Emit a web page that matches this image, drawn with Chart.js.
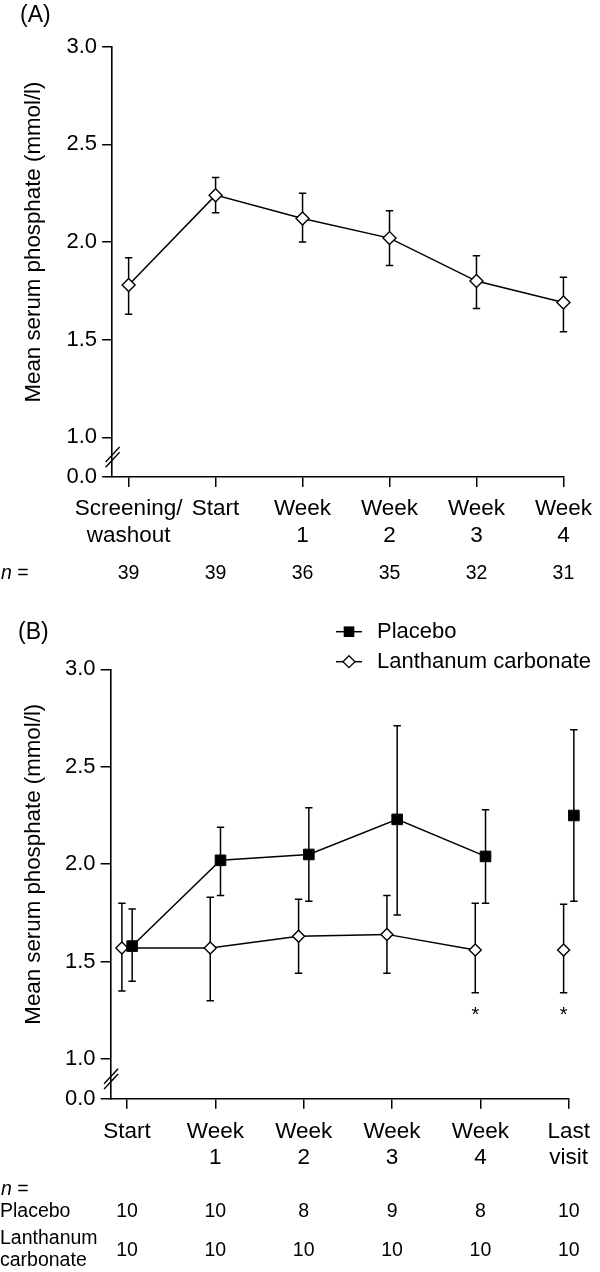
<!DOCTYPE html>
<html>
<head>
<meta charset="utf-8">
<script src="https://cdn.jsdelivr.net/npm/chart.js@4.4.0/dist/chart.umd.min.js"></script>
<style>
html,body{margin:0;padding:0;background:#fff;}
#wrapA{position:absolute;left:0;top:0;width:600px;height:600px;}
#wrapB{position:absolute;left:0;top:600px;width:600px;height:672px;}
canvas{display:block;}
</style>
</head>
<body>
<div id="wrapA"><canvas id="cA"></canvas></div>
<div id="wrapB"><canvas id="cB"></canvas></div>
<script>
const FONT = '"Liberation Sans", Arial, Helvetica, sans-serif';

// ---------- Panel A data ----------
const panelATitle = "(A)";
const labelsA = [["Screening/", "washout"], "Start", ["Week", "1"], ["Week", "2"], ["Week", "3"], ["Week", "4"]];
const meanA  = [1.78, 2.24, 2.12, 2.02, 1.80, 1.69];
const upperA = [1.92, 2.33, 2.25, 2.16, 1.93, 1.82];
const lowerA = [1.63, 2.15, 2.00, 1.88, 1.66, 1.54];
const nA = [39, 39, 36, 35, 32, 31];

// ---------- Panel B data ----------
const panelBTitle = "(B)";
const labelsB = ["Start", ["Week", "1"], ["Week", "2"], ["Week", "3"], ["Week", "4"], ["Last", "visit"]];
const placeboMean  = [1.58, 2.02, 2.05, 2.23, 2.04, 2.25];
const placeboUpper = [1.77, 2.19, 2.29, 2.71, 2.28, 2.69];
const placeboLower = [1.40, 1.84, 1.81, 1.74, 1.80, 1.81];
const lanthMean  = [1.57, 1.57, 1.63, 1.64, 1.56, 1.56];
const lanthUpper = [1.80, 1.83, 1.82, 1.84, 1.80, 1.795];
const lanthLower = [1.35, 1.30, 1.44, 1.44, 1.34, 1.34];
const nPlacebo = [10, 10, 8, 9, 8, 10];
const nLanth   = [10, 10, 10, 10, 10, 10];
const significance = ["", "", "", "", "*", "*"];
const seriesNames = ["Placebo", "Lanthanum carbonate"];
const tableRowNames = [["Placebo"], ["Lanthanum", "carbonate"]];

// ---------- Axis ----------
const yTickValues = [0.0, 1.0, 1.5, 2.0, 2.5, 3.0];
const yTickLabels = ["0.0", "1.0", "1.5", "2.0", "2.5", "3.0"];
const yTitle = "Mean serum phosphate (mmol/l)";

// scale constants (layout, not data)
const BREAK_MIN = 0.797;     // scale position where the 0.0 tick sits (axis break)
const PAIR_OFFSET = 0.058;   // horizontal dodge between the two series in panel B
const CAP = 3.7;

function yScale(extra) {
  return Object.assign({
    type: 'linear', min: BREAK_MIN, max: 3.0,
    afterBuildTicks(s) { s.ticks = yTickValues.map(v => ({ value: v === 0 ? BREAK_MIN : v })); },
    afterFit(s) { s.width = 60; },
    ticks: { color: '#000', font: { family: FONT, size: 22 }, padding: 5,
             callback: (v, i) => yTickLabels[i] },
    grid: { display: true, drawOnChartArea: false, drawTicks: true, tickLength: 10, color: '#000', lineWidth: 1.5 },
    border: { display: true, color: '#000', width: 1.6 }
  }, extra || {});
}
function xScale(labels, xmin, pad, lh) {
  return {
    type: 'linear', min: xmin, max: 5,
    afterBuildTicks(s) { s.ticks = labels.map((_, i) => ({ value: i })); },
    afterFit(s) { s.height = 100; },
    ticks: { color: '#000', font: { family: FONT, size: 22.5, lineHeight: lh }, padding: pad,
             autoSkip: false, maxRotation: 0, minRotation: 0,
             callback: (v, i) => labels[i] },
    grid: { display: true, drawOnChartArea: false, drawTicks: true, tickLength: 10, color: '#000', lineWidth: 1.5 },
    border: { display: true, color: '#000', width: 1.6 }
  };
}

const errorBars = {
  id: 'errorBars',
  beforeDatasetsDraw(chart) {
    const { ctx, scales: { x, y } } = chart;
    ctx.save();
    ctx.strokeStyle = '#000';
    ctx.lineWidth = 1.5;
    chart.data.datasets.forEach(ds => {
      if (!ds.errLow) return;
      ds.data.forEach((p, i) => {
        const px = x.getPixelForValue(p.x);
        const yl = y.getPixelForValue(ds.errLow[i]);
        const yh = y.getPixelForValue(ds.errHigh[i]);
        ctx.beginPath();
        ctx.moveTo(px, yl); ctx.lineTo(px, yh);
        ctx.moveTo(px - CAP, yl); ctx.lineTo(px + CAP, yl);
        ctx.moveTo(px - CAP, yh); ctx.lineTo(px + CAP, yh);
        ctx.stroke();
      });
    });
    ctx.restore();
  }
};

function drawBreak(ctx, chart) {
  const y = chart.scales.y;
  const xa = chart.chartArea.left;
  const yc = (y.getPixelForValue(1.0) + y.getPixelForValue(BREAK_MIN)) / 2;
  ctx.save();
  ctx.strokeStyle = '#000';
  ctx.lineWidth = 1.4;
  [-2.6, 2.6].forEach(o => {
    ctx.beginPath();
    ctx.moveTo(xa - 6.5, yc + o + 7.5);
    ctx.lineTo(xa + 7.5, yc + o - 7.5);
    ctx.stroke();
  });
  ctx.restore();
}

function drawYTitle(ctx, chart, cx) {
  const y = chart.scales.y;
  const cy = (y.getPixelForValue(1.0) + y.getPixelForValue(3.0)) / 2;
  ctx.save();
  ctx.translate(cx, cy);
  ctx.rotate(-Math.PI / 2);
  ctx.font = '22.3px ' + FONT;
  ctx.fillStyle = '#000';
  ctx.textAlign = 'center';
  ctx.textBaseline = 'middle';
  ctx.fillText(yTitle, 0, 0);
  ctx.restore();
}

function drawNLabel(ctx, x, y, size) {
  ctx.save();
  ctx.fillStyle = '#000';
  ctx.textBaseline = 'middle';
  ctx.textAlign = 'left';
  ctx.font = 'italic ' + size + 'px ' + FONT;
  ctx.fillText('n', x + 1, y);
  const w = ctx.measureText('n').width;
  ctx.font = size + 'px ' + FONT;
  ctx.fillText(' =', x + 1 + w, y);
  ctx.restore();
}

function drawDiamond(ctx, x, y, r) {
  ctx.beginPath();
  ctx.moveTo(x, y - r); ctx.lineTo(x + r, y); ctx.lineTo(x, y + r); ctx.lineTo(x - r, y); ctx.closePath();
  ctx.fillStyle = '#fff'; ctx.fill();
  ctx.strokeStyle = '#000'; ctx.lineWidth = 1.3; ctx.stroke();
}

// ---------- Panel A ----------
const annotA = {
  id: 'annotA',
  afterDraw(chart) {
    const ctx = chart.ctx;
    const x = chart.scales.x;
    drawBreak(ctx, chart);
    drawYTitle(ctx, chart, 34);
    ctx.save();
    ctx.fillStyle = '#000';
    ctx.font = '23px ' + FONT;
    ctx.textBaseline = 'middle';
    ctx.textAlign = 'left';
    ctx.fillText(panelATitle, 20, 16);
    ctx.font = '19.5px ' + FONT;
    ctx.textAlign = 'center';
    nA.forEach((n, i) => ctx.fillText(String(n), x.getPixelForValue(i), 574));
    ctx.restore();
    drawNLabel(ctx, 0, 574, 19.5);
  }
};

new Chart(document.getElementById('cA'), {
  type: 'line',
  data: {
    datasets: [{
      label: 'Mean serum phosphate',
      data: meanA.map((v, i) => ({ x: i, y: v })),
      errLow: lowerA, errHigh: upperA,
      borderColor: '#000', borderWidth: 1.5,
      pointStyle: 'rectRot', pointRadius: 6.5, pointHoverRadius: 6.5,
      pointBackgroundColor: '#fff', pointBorderColor: '#000', pointBorderWidth: 1.4,
      tension: 0, clip: false
    }]
  },
  options: {
    responsive: true, maintainAspectRatio: false, animation: false,
    layout: { padding: { left: 52.1, right: 27.1, top: 46.7, bottom: 23 } },
    plugins: { legend: { display: false }, tooltip: { enabled: false } },
    scales: { x: xScale(labelsA, -0.19, 8, 1.2), y: yScale() }
  },
  plugins: [errorBars, annotA]
});

// ---------- Panel B ----------
const annotB = {
  id: 'annotB',
  afterDraw(chart) {
    const ctx = chart.ctx;
    const x = chart.scales.x;
    const y = chart.scales.y;
    drawBreak(ctx, chart);
    drawYTitle(ctx, chart, 33.5);
    ctx.save();
    ctx.fillStyle = '#000';
    ctx.font = '23px ' + FONT;
    ctx.textBaseline = 'middle';
    ctx.textAlign = 'left';
    ctx.fillText(panelBTitle, 18, 33);

    // legend
    const lx = 336, rows = [31.7, 61.7];
    ctx.strokeStyle = '#000'; ctx.lineWidth = 1.5;
    rows.forEach((ry, k) => {
      ctx.beginPath(); ctx.moveTo(lx, ry); ctx.lineTo(lx + 26, ry); ctx.stroke();
      if (k === 0) { ctx.fillStyle = '#000'; ctx.fillRect(lx + 13 - 5.3, ry - 5.3, 10.6, 10.6); }
      else drawDiamond(ctx, lx + 13, ry, 6);
      ctx.fillStyle = '#000';
      ctx.font = '22px ' + FONT;
      ctx.textAlign = 'left';
      ctx.fillText(seriesNames[k], 377, ry);
    });

    // significance marks
    ctx.font = '20px ' + FONT;
    ctx.textAlign = 'center';
    significance.forEach((s, i) => {
      if (s) ctx.fillText(s, x.getPixelForValue(i - PAIR_OFFSET), y.getPixelForValue(lanthLower[i]) + 23);
    });

    // n table
    ctx.font = '19.5px ' + FONT;
    ctx.textAlign = 'left';
    ctx.fillText(tableRowNames[0][0], 0, 612);
    ctx.fillText(tableRowNames[1][0], 0, 639);
    ctx.fillText(tableRowNames[1][1], 0, 661);
    ctx.textAlign = 'center';
    nPlacebo.forEach((n, i) => ctx.fillText(String(n), x.getPixelForValue(i), 612));
    nLanth.forEach((n, i) => ctx.fillText(String(n), x.getPixelForValue(i), 650.5));
    ctx.restore();
    drawNLabel(ctx, 0, 590, 19.5);
  }
};

new Chart(document.getElementById('cB'), {
  type: 'line',
  data: {
    datasets: [{
      label: seriesNames[0],
      data: placeboMean.map((v, i) => ({ x: i + PAIR_OFFSET, y: v })),
      errLow: placeboLower, errHigh: placeboUpper,
      borderColor: '#000', borderWidth: 1.5,
      pointStyle: 'rect', pointRadius: 7.5, pointHoverRadius: 7.5,
      pointBackgroundColor: '#000', pointBorderColor: '#000', pointBorderWidth: 1,
      segment: { borderColor: c => c.p1DataIndex === placeboMean.length - 1 ? 'rgba(0,0,0,0)' : '#000' },
      tension: 0, clip: false
    }, {
      label: seriesNames[1],
      data: lanthMean.map((v, i) => ({ x: i - PAIR_OFFSET, y: v })),
      errLow: lanthLower, errHigh: lanthUpper,
      borderColor: '#000', borderWidth: 1.5,
      pointStyle: 'rectRot', pointRadius: 6, pointHoverRadius: 6,
      pointBackgroundColor: '#fff', pointBorderColor: '#000', pointBorderWidth: 1.4,
      segment: { borderColor: c => c.p1DataIndex === lanthMean.length - 1 ? 'rgba(0,0,0,0)' : '#000' },
      tension: 0, clip: false
    }]
  },
  options: {
    responsive: true, maintainAspectRatio: false, animation: false,
    layout: { padding: { left: 50.6, right: 28.6, top: 69.3, bottom: 73.3 } },
    plugins: { legend: { display: false }, tooltip: { enabled: false } },
    scales: { x: xScale(labelsB, -0.186, 10, 1.17), y: yScale() }
  },
  plugins: [errorBars, annotB]
});
</script>
</body>
</html>
